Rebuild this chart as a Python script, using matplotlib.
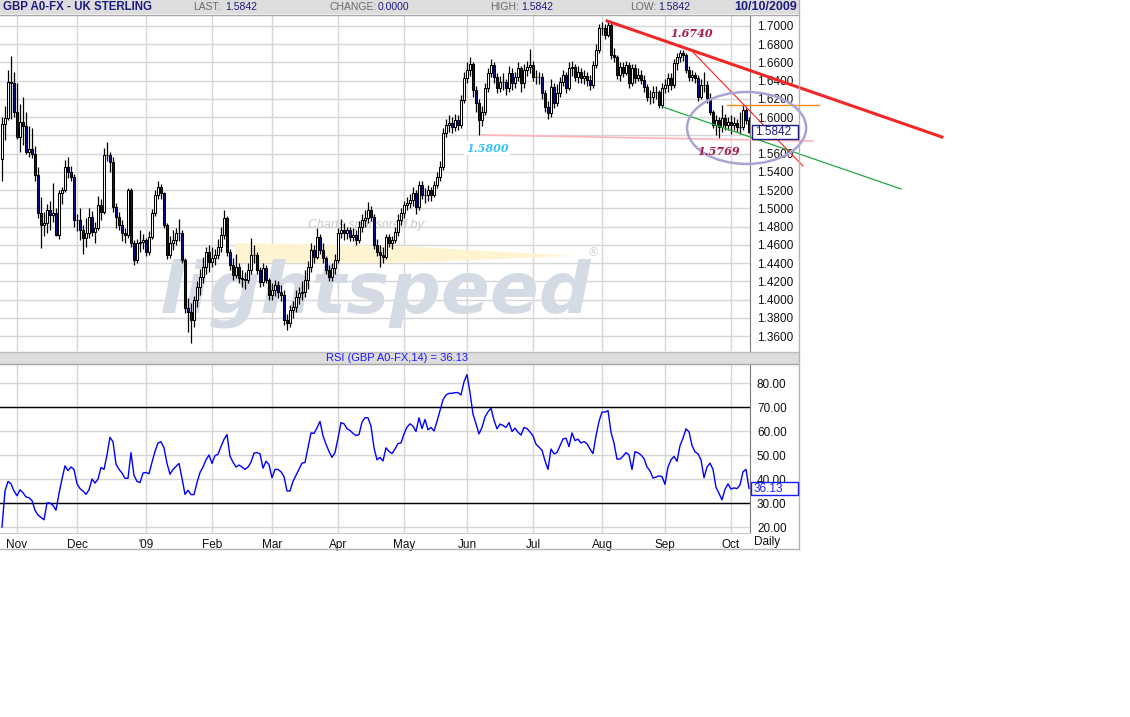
import numpy as np
import pandas as pd
import matplotlib
matplotlib.use("Agg")
import matplotlib.pyplot as plt
from matplotlib.patches import Rectangle, Ellipse, Polygon

plt.rcParams['font.family'] = ['Liberation Sans', 'DejaVu Sans']

W, H = 1130, 717

# daily GBP bars, 27 Oct 2008 .. 9 Oct 2009 (weekdays)
dates = pd.bdate_range("2008-10-27", "2009-10-09")
first_open = 1.5540

close = [
    1.5925, 1.5991, 1.6386, 1.6375, 1.6057, 1.5783, 1.5947, 1.5903, 1.5618, 1.5651,
    1.5596, 1.5366, 1.4950, 1.4818, 1.4840, 1.4982, 1.4928, 1.4950, 1.4708, 1.5169,
    1.5202, 1.5454, 1.5399, 1.5344, 1.4873, 1.4873, 1.4763, 1.4675, 1.4730, 1.4906,
    1.4741, 1.4785, 1.5037, 1.4961, 1.5586, 1.5586, 1.5509, 1.5015, 1.4906, 1.4818,
    1.4730, 1.4708, 1.5202, 1.4621, 1.4434, 1.4621, 1.4632, 1.4653, 1.4522, 1.4686,
    1.4950, 1.5147, 1.5235, 1.5169, 1.4818, 1.4489, 1.4621, 1.4653, 1.4730, 1.4730,
    1.4434, 1.3908, 1.3864, 1.3776, 1.3996, 1.4138, 1.4248, 1.4357, 1.4522, 1.4412,
    1.4456, 1.4489, 1.4577, 1.4708, 1.4895, 1.4522, 1.4379, 1.4270, 1.4357, 1.4237,
    1.4226, 1.4215, 1.4325, 1.4489, 1.4489, 1.4325, 1.4193, 1.4346, 1.4215, 1.4050,
    1.4105, 1.4160, 1.4083, 1.4050, 1.3776, 1.3743, 1.3886, 1.3919, 1.4028, 1.4072,
    1.4083, 1.4215, 1.4357, 1.4544, 1.4467, 1.4686, 1.4544, 1.4456, 1.4325, 1.4248,
    1.4346, 1.4434, 1.4730, 1.4763, 1.4730, 1.4763, 1.4686, 1.4708, 1.4653, 1.4796,
    1.4873, 1.4895, 1.4982, 1.4906, 1.4599, 1.4522, 1.4489, 1.4467, 1.4686, 1.4621,
    1.4653, 1.4741, 1.4873, 1.4950, 1.5037, 1.5059, 1.5092, 1.5169, 1.5015, 1.5257,
    1.5147, 1.5147, 1.5202, 1.5147, 1.5257, 1.5344, 1.5454, 1.5827, 1.5914, 1.5936,
    1.5893, 1.5969, 1.5914, 1.6189, 1.6430, 1.6518, 1.6583, 1.6298, 1.6156, 1.5969,
    1.6057, 1.6320, 1.6485, 1.6572, 1.6441, 1.6320, 1.6386, 1.6386, 1.6320, 1.6485,
    1.6375, 1.6441, 1.6539, 1.6375, 1.6518, 1.6550, 1.6572, 1.6441, 1.6441, 1.6441,
    1.6265, 1.6112, 1.6046, 1.6331, 1.6156, 1.6265, 1.6386, 1.6463, 1.6320, 1.6539,
    1.6550, 1.6441, 1.6496, 1.6430, 1.6452, 1.6408, 1.6353, 1.6572, 1.6737, 1.6978,
    1.6978, 1.6901, 1.7011, 1.6682, 1.6660, 1.6463, 1.6550, 1.6485, 1.6572, 1.6375,
    1.6539, 1.6430, 1.6463, 1.6408, 1.6331, 1.6221, 1.6221, 1.6276, 1.6276, 1.6134,
    1.6320, 1.6353, 1.6430, 1.6353, 1.6594, 1.6660, 1.6704, 1.6682, 1.6518, 1.6441,
    1.6463, 1.6430, 1.6221, 1.6353, 1.6353, 1.6211, 1.6057, 1.5914, 1.5969, 1.5893,
    1.5991, 1.5914, 1.5947, 1.5914, 1.5936, 1.5893, 1.5893, 1.6079, 1.5969, 1.5842,
]

high = [
    1.600, 1.612, 1.652, 1.667, 1.650, 1.638, 1.615, 1.622, 1.606, 1.590,
    1.588, 1.568, 1.545, 1.512, 1.496, 1.505, 1.508, 1.528, 1.500, 1.520,
    1.524, 1.553, 1.556, 1.547, 1.538, 1.494, 1.500, 1.482, 1.490, 1.500,
    1.497, 1.485, 1.514, 1.510, 1.566, 1.573, 1.562, 1.556, 1.506, 1.496,
    1.487, 1.478, 1.522, 1.522, 1.465, 1.466, 1.476, 1.472, 1.468, 1.475,
    1.499, 1.520, 1.530, 1.527, 1.518, 1.484, 1.470, 1.476, 1.478, 1.488,
    1.476, 1.446, 1.402, 1.396, 1.404, 1.420, 1.434, 1.447, 1.458, 1.460,
    1.458, 1.455, 1.466, 1.480, 1.498, 1.492, 1.456, 1.446, 1.450, 1.440,
    1.433, 1.430, 1.440, 1.467, 1.460, 1.452, 1.436, 1.440, 1.438, 1.424,
    1.418, 1.422, 1.420, 1.416, 1.410, 1.384, 1.394, 1.398, 1.410, 1.414,
    1.420, 1.432, 1.442, 1.462, 1.460, 1.478, 1.472, 1.462, 1.448, 1.438,
    1.440, 1.450, 1.478, 1.488, 1.484, 1.480, 1.480, 1.478, 1.476, 1.486,
    1.494, 1.498, 1.507, 1.503, 1.494, 1.466, 1.460, 1.458, 1.472, 1.472,
    1.470, 1.480, 1.494, 1.500, 1.508, 1.512, 1.516, 1.524, 1.520, 1.530,
    1.530, 1.522, 1.526, 1.524, 1.530, 1.540, 1.552, 1.588, 1.598, 1.602,
    1.600, 1.604, 1.602, 1.624, 1.650, 1.660, 1.666, 1.660, 1.634, 1.620,
    1.612, 1.638, 1.654, 1.664, 1.660, 1.648, 1.645, 1.648, 1.642, 1.656,
    1.654, 1.650, 1.660, 1.656, 1.658, 1.662, 1.675, 1.662, 1.652, 1.650,
    1.648, 1.630, 1.618, 1.642, 1.638, 1.636, 1.644, 1.652, 1.650, 1.660,
    1.662, 1.658, 1.656, 1.654, 1.652, 1.650, 1.646, 1.662, 1.680, 1.702,
    1.704, 1.702, 1.706, 1.704, 1.676, 1.668, 1.660, 1.660, 1.662, 1.660,
    1.658, 1.658, 1.654, 1.652, 1.646, 1.636, 1.630, 1.634, 1.634, 1.630,
    1.638, 1.642, 1.648, 1.648, 1.664, 1.670, 1.674, 1.674, 1.670, 1.656,
    1.652, 1.650, 1.646, 1.642, 1.650, 1.640, 1.626, 1.608, 1.602, 1.600,
    1.613, 1.604, 1.600, 1.602, 1.600, 1.598, 1.606, 1.613, 1.610, 1.600,
]

low = [
    1.530, 1.575, 1.597, 1.598, 1.600, 1.576, 1.562, 1.570, 1.560, 1.556,
    1.555, 1.530, 1.490, 1.457, 1.470, 1.473, 1.476, 1.485, 1.470, 1.466,
    1.505, 1.518, 1.533, 1.530, 1.480, 1.475, 1.465, 1.450, 1.458, 1.468,
    1.470, 1.462, 1.476, 1.487, 1.494, 1.552, 1.540, 1.496, 1.478, 1.476,
    1.464, 1.462, 1.468, 1.458, 1.438, 1.440, 1.452, 1.455, 1.448, 1.449,
    1.466, 1.492, 1.510, 1.510, 1.478, 1.445, 1.446, 1.454, 1.460, 1.464,
    1.440, 1.385, 1.364, 1.352, 1.370, 1.392, 1.405, 1.418, 1.428, 1.430,
    1.436, 1.438, 1.444, 1.452, 1.466, 1.448, 1.432, 1.421, 1.424, 1.418,
    1.414, 1.412, 1.418, 1.428, 1.440, 1.428, 1.414, 1.415, 1.418, 1.400,
    1.400, 1.404, 1.402, 1.398, 1.372, 1.367, 1.370, 1.380, 1.386, 1.395,
    1.400, 1.403, 1.412, 1.430, 1.440, 1.444, 1.450, 1.440, 1.428, 1.420,
    1.420, 1.428, 1.440, 1.468, 1.465, 1.466, 1.464, 1.464, 1.460, 1.462,
    1.474, 1.480, 1.484, 1.486, 1.456, 1.448, 1.436, 1.440, 1.444, 1.458,
    1.455, 1.462, 1.470, 1.482, 1.490, 1.498, 1.500, 1.503, 1.494, 1.498,
    1.510, 1.506, 1.508, 1.508, 1.512, 1.522, 1.530, 1.542, 1.578, 1.584,
    1.583, 1.585, 1.586, 1.588, 1.616, 1.638, 1.645, 1.622, 1.606, 1.580,
    1.590, 1.602, 1.628, 1.644, 1.638, 1.626, 1.628, 1.630, 1.624, 1.628,
    1.630, 1.632, 1.640, 1.628, 1.632, 1.645, 1.648, 1.640, 1.636, 1.636,
    1.620, 1.606, 1.598, 1.600, 1.610, 1.612, 1.622, 1.634, 1.626, 1.630,
    1.645, 1.640, 1.638, 1.638, 1.636, 1.634, 1.630, 1.632, 1.654, 1.670,
    1.690, 1.686, 1.688, 1.664, 1.660, 1.642, 1.640, 1.644, 1.646, 1.632,
    1.634, 1.638, 1.640, 1.636, 1.628, 1.618, 1.614, 1.616, 1.620, 1.610,
    1.610, 1.626, 1.628, 1.630, 1.632, 1.652, 1.660, 1.662, 1.648, 1.640,
    1.640, 1.638, 1.618, 1.620, 1.628, 1.616, 1.602, 1.588, 1.580, 1.577,
    1.584, 1.586, 1.586, 1.582, 1.586, 1.584, 1.582, 1.586, 1.592, 1.583,
]

rsi = [
    20, 35, 39, 38, 35, 33, 35.5, 34.3, 32.5, 32.2,
    31, 27, 25, 24, 23, 30, 30, 29, 27, 34,
    40, 45.5, 43.5, 45, 44, 38, 36, 35, 33.6, 35.5,
    40, 38.3, 40, 44.8, 44, 50, 57.4, 55.5, 46.2, 44,
    42.5, 40.3, 40.3, 51, 41.5, 39, 38.5, 42.5, 42.7, 42.2,
    47, 51.5, 55, 55.5, 53, 46.5, 42, 44, 45.2, 46.5,
    40.3, 33.6, 35.3, 33.5, 33.5, 38.5, 42.7, 45, 48, 50,
    46.5, 49.7, 50.3, 53.5, 56.5, 58.5, 49.5, 47, 45, 45.8,
    45, 44, 45, 47, 50.8, 51, 50.5, 44.5, 47.4, 46,
    40.5, 44, 44, 43, 41, 35, 35, 39, 41.5, 44,
    46.6, 46.9, 53, 59.2, 59, 61.3, 64, 58, 54.5, 51.5,
    49, 51, 57, 63.5, 63, 61, 60.2, 59, 58.1, 58.5,
    63.7, 65.5, 65.5, 62, 53, 48, 49, 47.5, 53, 51.5,
    50.6, 52.5, 54.8, 55, 58.8, 61.6, 63, 62, 59.8, 65.5,
    61, 64.8, 60.5, 61.5, 60, 64, 68.5, 73, 75, 75.7,
    75.7, 76, 76, 75, 80.5, 83.5, 76, 67, 63, 58.8,
    61.5, 65.8, 68, 69.5, 64.5, 60.9, 62.9, 62.3, 61.5, 63.5,
    59.8, 61.2, 59.5, 58.3, 61.5, 61, 59.6, 58, 54.5, 53.3,
    52, 47.6, 44, 52.5, 50.5, 51, 53.9, 56.7, 57, 53.5,
    59.2, 56, 56.6, 55, 55.6, 54.7, 52.5, 50.6, 58, 64,
    67.9, 67.9, 68.5, 59.5, 55, 48.3, 48.3, 49.5, 51, 50,
    44, 51.4, 50.9, 50, 48.5, 45, 43.4, 40.4, 40.8, 41.3,
    41, 37.8, 45, 48, 49.4, 47.4, 53.9, 57, 60.9, 59.7,
    54, 51.3, 50.5, 48, 40.5, 45, 46.6, 44, 36.5, 34,
    31.3, 35.7, 38, 35.8, 36.3, 36, 37.5, 43, 44, 36.13,
]

price_ticks = [1.36, 1.38, 1.40, 1.42, 1.44, 1.46, 1.48, 1.50, 1.52,
               1.54, 1.56, 1.58, 1.60, 1.62, 1.64, 1.66, 1.68, 1.70]
rsi_ticks = [20, 30, 40, 50, 60, 70, 80]
rsi_levels = [30, 70]
month_labels = ["Nov", "Dec", "'09", "Feb", "Mar", "Apr", "May",
                "Jun", "Jul", "Aug", "Sep", "Oct"]
month_starts = ["2008-11-01", "2008-12-01", "2009-01-01", "2009-02-01",
                "2009-03-01", "2009-04-01", "2009-05-01", "2009-06-01",
                "2009-07-01", "2009-08-01", "2009-09-01", "2009-10-01"]

# hand-drawn study lines: (bar index, price)
main_trend_x, main_trend_y = [201.7, 313.3], [1.7055, 1.5783]
steep_trend_x, steep_trend_y = [229.3, 267.0], [1.6748, 1.5465]
support_x, support_y = [220.3, 299.7], [1.6112, 1.5213]
floor_x, floor_y = [160.0, 270.3], [1.5805, 1.5739]
resist_x, resist_y = [241.7, 272.3], [1.6134, 1.6134]

last_price = "1.5842"
last_rsi = "36.13"

# ---------------------------------------------------------------
close = np.array(close)
high = np.array(high)
low = np.array(low)
opn = np.concatenate([[first_open], close[:-1]])
idx = np.arange(len(close))
month_idx = [int(np.searchsorted(dates, pd.Timestamp(m))) for m in month_starts]

fig = plt.figure(figsize=(W / 100, H / 100), dpi=100)


def fx(x):
    return x / W


def fy(y):
    return 1 - y / H


def px_axes(x0, y0, x1, y1):
    return fig.add_axes([fx(x0), fy(y1), (x1 - x0) / W, (y1 - y0) / H])


GRID = '#d6d6d6'
NAVY = '#1c1c80'
XLIM = (-2 / 3, 748 / 3)

# ---- price panel
ax = px_axes(0, 15, 750, 351)
ax.set_xlim(*XLIM)
ax.set_ylim(1.34364, 1.71206)
for p in price_ticks:
    ax.axhline(p, color=GRID, lw=1, zorder=1)
for m in month_idx:
    ax.axvline(m, color=GRID, lw=1, zorder=1)

# watermark
ax.add_patch(Polygon([(fx(235), fy(243)), (fx(400), fy(246)), (fx(575), fy(256)),
                      (fx(400), fy(263)), (fx(235), fy(263))],
                     closed=True, transform=fig.transFigure, facecolor='#fff4d2',
                     edgecolor='none', zorder=1.2))
ax.text(fx(160), fy(312), 'lightspeed', transform=fig.transFigure, fontsize=52,
        fontweight='bold', style='italic', family='DejaVu Sans', color='#d5dbe4',
        ha='left', va='baseline', zorder=1.5)
ax.text(fx(308), fy(225), 'Charts sponsored by:', transform=fig.transFigure,
        fontsize=9, style='italic', color='#c8c8c8', ha='left', va='center', zorder=1.5)
ax.text(fx(593), fy(253), '\u00ae', transform=fig.transFigure, fontsize=9,
        color='#cdd2da', ha='center', va='center', zorder=1.5)

# candles: hollow = up day, navy = down day
up = close >= opn
ax.vlines(idx, low, high, color='black', lw=0.9, zorder=3)
ax.bar(idx[up], close[up] - opn[up], bottom=opn[up], width=0.9, color='white',
       edgecolor='black', lw=0.75, zorder=4)
ax.bar(idx[~up], opn[~up] - close[~up], bottom=close[~up], width=0.9, color='#101080',
       edgecolor='black', lw=0.75, zorder=4)

# study lines
ax.plot(floor_x, floor_y, color='#ffb3bc', lw=1.2, clip_on=False, zorder=5)
ax.plot(resist_x, resist_y, color='#ff8a1a', lw=1.0, clip_on=False, zorder=5)
ax.plot(support_x, support_y, color='#22a83a', lw=0.9, clip_on=False, zorder=5)
ax.plot(steep_trend_x, steep_trend_y, color='#ff2020', lw=0.8, clip_on=False, zorder=5)
ax.plot(main_trend_x, main_trend_y, color='#f02828', lw=2.2, clip_on=False, zorder=5)
ax.add_patch(Ellipse((248.2, 1.5882), 39.7, 0.0789, facecolor='none',
                     edgecolor='#aba3d3', lw=1.8, clip_on=False, zorder=5))
ax.text(229.7, 1.6923, '1.6740', fontsize=8, family='DejaVu Serif', style='italic',
        fontweight='bold', color='#a31d4b', ha='center', va='center', zorder=6)
ax.text(161.7, 1.5662, '1.5800', fontsize=8, family='DejaVu Serif', style='italic',
        fontweight='bold', color='#38c4f4', ha='center', va='center', zorder=6,
        bbox=dict(facecolor='white', edgecolor='none', pad=1))
ax.text(238.7, 1.5629, '1.5769', fontsize=8, family='DejaVu Serif', style='italic',
        fontweight='bold', color='#a31d4b', ha='center', va='center', zorder=6)

# the 1.5800 axis label sits under the last-price box, so it is left blank
ax.set_yticks(price_ticks)
ax.set_yticklabels(['' if p == 1.58 else f'{p:.4f}' for p in price_ticks])
ax.yaxis.tick_right()
ax.tick_params(axis='y', length=0, pad=5, labelsize=8.5, labelcolor='#111111')
ax.set_xticks([])
for s in ['top', 'left', 'bottom']:
    ax.spines[s].set_visible(False)
ax.spines['right'].set_color('#7a7a7a')

# ---- RSI panel
rax = px_axes(0, 364, 750, 533)
rax.set_xlim(*XLIM)
rax.set_ylim(17.5, 87.92)
for r in rsi_ticks:
    rax.axhline(r, color=GRID, lw=1, zorder=1)
for m in month_idx:
    rax.axvline(m, color=GRID, lw=1, zorder=1)
for r in rsi_levels:
    rax.axhline(r, color='black', lw=1, zorder=2)
rax.plot(idx, rsi, color='#0000ff', lw=1, zorder=3)
rax.set_yticks(rsi_ticks)
rax.set_yticklabels([f'{r:.2f}' for r in rsi_ticks])
rax.yaxis.tick_right()
rax.tick_params(axis='y', length=0, pad=5, labelsize=8.5, labelcolor='#111111')
rax.set_xticks(month_idx)
rax.set_xticklabels(month_labels)
rax.tick_params(axis='x', length=0, pad=4, labelsize=8.5, labelcolor='#111111')
for s in ['top', 'left']:
    rax.spines[s].set_visible(False)
rax.spines['right'].set_color('#7a7a7a')
rax.spines['bottom'].set_color('#c4c4c4')

# ---- header bars and frame
fig.patches.append(Rectangle((0, fy(14)), fx(800), 14 / H, transform=fig.transFigure,
                             facecolor='#dddddd', edgecolor='none', zorder=0))
fig.patches.append(Rectangle((0, fy(364)), fx(800), 12 / H, transform=fig.transFigure,
                             facecolor='#dddddd', edgecolor='none', zorder=0))
for yy, col in [(14.5, '#a8a8a8'), (351.5, '#bcbcbc'), (363.5, '#a8a8a8'), (548.5, '#b4b4b4')]:
    fig.add_artist(plt.Line2D([0, fx(799)], [fy(yy), fy(yy)], color=col, lw=1,
                              transform=fig.transFigure))
fig.add_artist(plt.Line2D([fx(799), fx(799)], [fy(0), fy(549)], color='#b4b4b4', lw=1,
                          transform=fig.transFigure))

fig.text(fx(3), fy(7), 'GBP A0-FX - UK STERLING', fontsize=8.3, fontweight='bold',
         color=NAVY, ha='left', va='center')
for lbl, lx, val, vx in [('LAST:', 193, last_price, 225), ('CHANGE:', 330, '0.0000', 378),
                         ('HIGH:', 490, last_price, 521), ('LOW:', 630, last_price, 658)]:
    fig.text(fx(lx), fy(7), lbl, fontsize=7.5, color='#6a6a6a', ha='left', va='center')
    fig.text(fx(vx), fy(7), val, fontsize=7.5, color=NAVY, ha='left', va='center')
fig.text(fx(797), fy(7), '10/10/2009', fontsize=9, fontweight='bold', color=NAVY,
         ha='right', va='center')
fig.text(fx(397), fy(358), f'RSI (GBP A0-FX,14) = {last_rsi}', fontsize=8,
         color='#1a1aff', ha='center', va='center')
fig.text(fx(767), fy(542), 'Daily', fontsize=8.5, color='#111111', ha='center', va='center')

# last value boxes
fig.patches.append(Rectangle((fx(752), fy(139)), 46 / W, 14 / H, transform=fig.transFigure,
                             facecolor='white', edgecolor=NAVY, lw=1, zorder=5))
fig.text(fx(755), fy(132), last_price, fontsize=8.5, color=NAVY, ha='left', va='center',
         zorder=6)
fig.patches.append(Rectangle((fx(751), fy(495)), 47 / W, 13 / H, transform=fig.transFigure,
                             facecolor='white', edgecolor='#1a1aff', lw=1, zorder=5))
fig.text(fx(754), fy(488.5), last_rsi, fontsize=8.5, color='#1a1aff', ha='left', va='center',
         zorder=6)

fig.savefig('out.png', dpi=100, facecolor='white')
